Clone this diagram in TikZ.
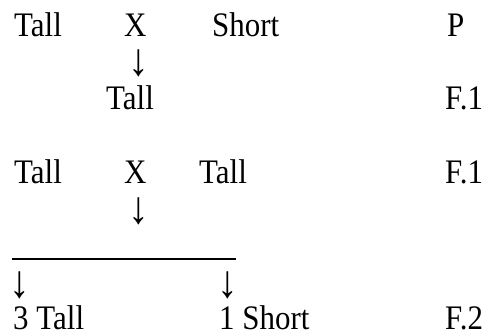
\documentclass[tikz,border=0pt]{standalone}
\usepackage{fontspec}
\setmainfont{Liberation Serif}[FakeStretch=0.9]
\begin{document}
\begin{tikzpicture}[x=1bp,y=-1bp,
  lbl/.style={anchor=base west, inner sep=0pt, font=\fontsize{34.5}{34.5}\selectfont},
  down/.style={anchor=north, inner sep=0pt, font=\fontsize{46}{46}\selectfont},
  bar/.style={line width=1.3bp}]
\useasboundingbox (0,0) rectangle (485,331);
% parents
\node[lbl] (p1) at (14,36) {Tall};
\node[lbl] (px) at (124,36) {X};
\node[lbl] (p2) at (212,36) {Short};
\node[lbl] (gp) at (447,36) {P};
\node[down] (a1) at (138.5,50) {↓};
% first filial generation
\node[lbl] (f1) at (106,109) {Tall};
\node[lbl] (g1) at (445,109) {F.1};
% selfing the hybrids
\node[lbl] (s1) at (14,183) {Tall};
\node[lbl] (sx) at (124,183) {X};
\node[lbl] (s2) at (199,183) {Tall};
\node[lbl] (g2) at (445,183) {F.1};
\node[down] (a2) at (138.5,198) {↓};
% branching bar
\coordinate (barL) at (12,259);
\coordinate (barR) at (236,259);
\draw[bar] (barL) -- (barR);
\node[down] (a3) at (20,272) {↓};
\node[down] (a4) at (227.5,272) {↓};
% second filial generation
\node[lbl] (r1) at (13,329) {3 Tall};
\node[lbl] (r2) at (219,329) {1 Short};
\node[lbl] (g3) at (445,329) {F.2};
\end{tikzpicture}
\end{document}
